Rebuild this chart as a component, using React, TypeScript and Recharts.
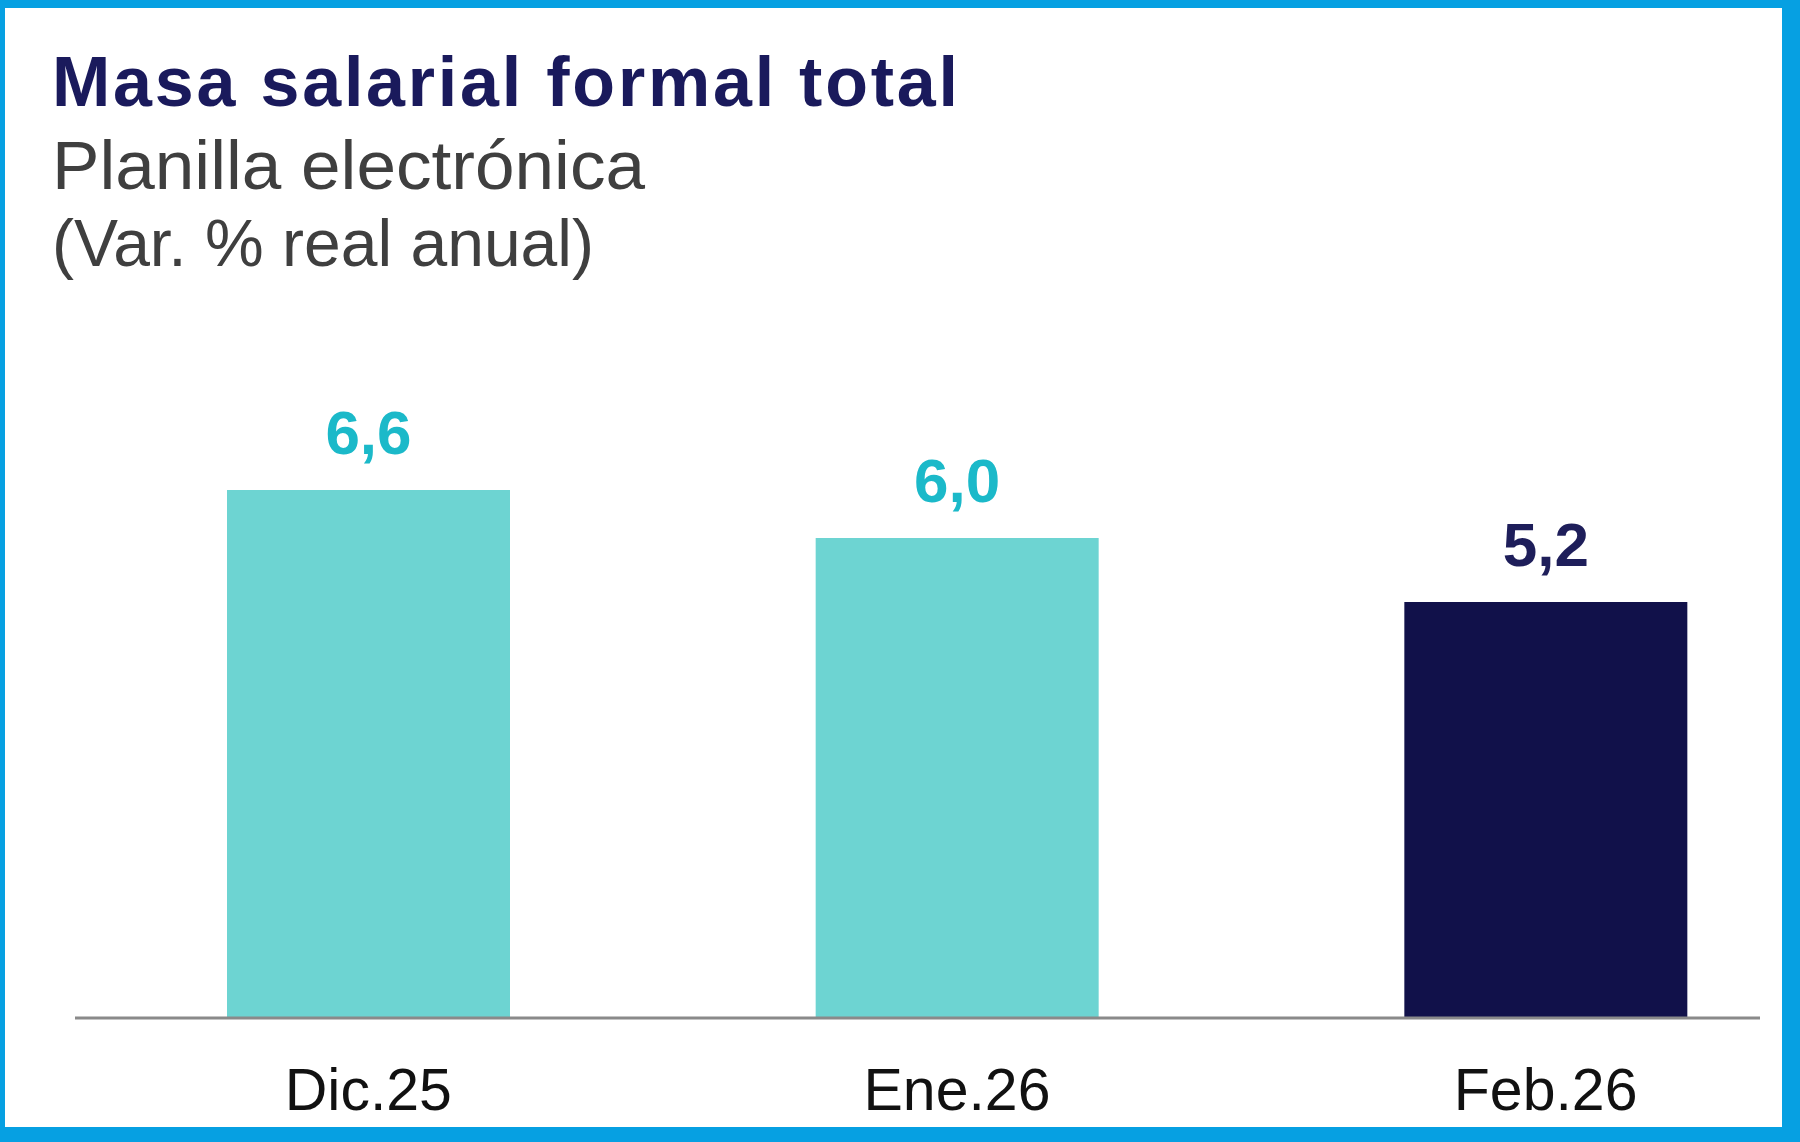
import { BarChart, Bar, XAxis, YAxis, Cell, LabelList } from "recharts";

const categories = ["Dic.25", "Ene.26", "Feb.26"];
const values = [6.6, 6.0, 5.2];
const barColors = ["#6dd4d2", "#6dd4d2", "#11114a"];
const labelColors = ["#1bb9c9", "#1bb9c9", "#1e1e5a"];

const data = categories.map((name, i) => ({ name, value: values[i] }));

const fmt = (v: number) => v.toFixed(1).replace(".", ",");

const ValueLabel = (props: any) => {
  const { x, y, width, value, index } = props;
  return (
    <text
      x={x + width / 2}
      y={y - 36}
      textAnchor="middle"
      fontFamily="Liberation Sans, Arial, sans-serif"
      fontWeight="bold"
      fontSize={62}
      fill={labelColors[index]}
    >
      {fmt(value)}
    </text>
  );
};

const CatTick = (props: any) => {
  const { x, payload } = props;
  return (
    <text
      x={x}
      y={1110}
      textAnchor="middle"
      fontFamily="Liberation Sans, Arial, sans-serif"
      fontSize={59}
      fill="#111"
    >
      {payload.value}
    </text>
  );
};

export default function App() {
  return (
    <div
      style={{
        position: "absolute",
        top: 0,
        left: 0,
        width: 1800,
        height: 1142,
        boxSizing: "border-box",
        background: "#fff",
        borderStyle: "solid",
        borderColor: "#06a0e2",
        borderWidth: "8px 18px 15px 5px",
        overflow: "hidden",
      }}
    >
      <div style={{ position: "absolute", top: -8, left: -5 }}>
        <BarChart
          width={1800}
          height={1142}
          data={data}
          margin={{ top: 378, right: 40, left: 75, bottom: 64 }}
        >
          <XAxis
            dataKey="name"
            height={60}
            padding={{ left: -1, right: -80 }}
            axisLine={{ stroke: "#8a8a8a", strokeWidth: 3 }}
            tickLine={false}
            tick={<CatTick />}
            interval={0}
          />
          <YAxis hide domain={[0, 8]} />
          <Bar dataKey="value" barSize={283} isAnimationActive={false}>
            {data.map((d, i) => (
              <Cell key={d.name} fill={barColors[i]} />
            ))}
            <LabelList dataKey="value" content={<ValueLabel />} />
          </Bar>
        </BarChart>
        <svg
          width={1800}
          height={300}
          style={{ position: "absolute", top: 0, left: 0 }}
        >
          <text
            x={52}
            y={106}
            fontFamily="Liberation Sans, Arial, sans-serif"
            fontWeight="bold"
            fontSize={70}
            fill="#1a1a5c"
            textLength={906}
          >
            Masa salarial formal total
          </text>
          <text
            x={52}
            y={189}
            fontFamily="Liberation Sans, Arial, sans-serif"
            fontSize={68}
            fill="#3f3f3f"
            textLength={593}
            lengthAdjust="spacingAndGlyphs"
          >
            Planilla electrónica
          </text>
          <text
            x={52}
            y={266}
            fontFamily="Liberation Sans, Arial, sans-serif"
            fontSize={67}
            fill="#3f3f3f"
            textLength={542}
            lengthAdjust="spacingAndGlyphs"
          >
            (Var. % real anual)
          </text>
        </svg>
      </div>
    </div>
  );
}
